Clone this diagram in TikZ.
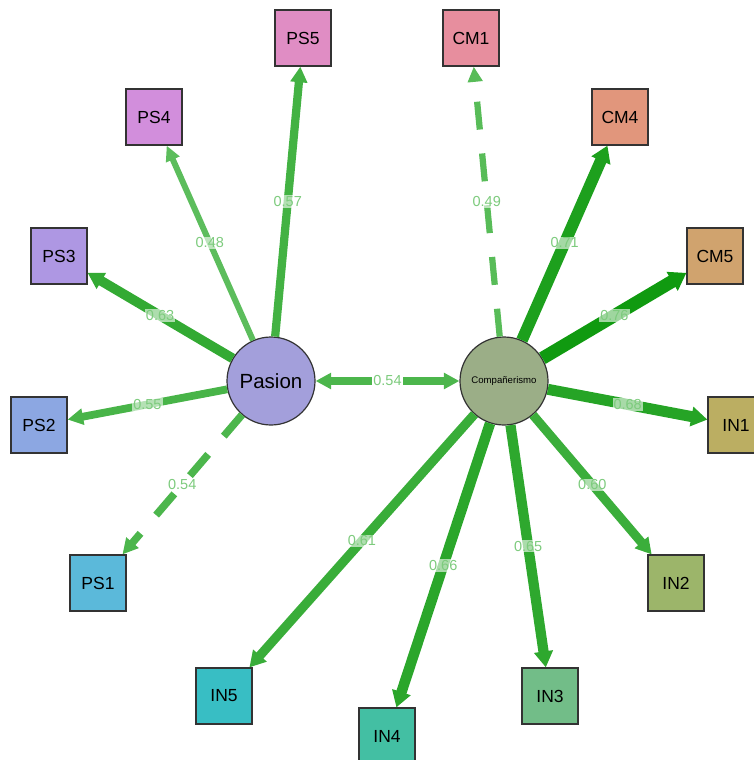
\documentclass[tikz,border=0pt]{standalone}
\usepackage{fontspec}
\setmainfont{Liberation Sans}
\usepackage{xcolor}
\usepackage{tikz}
\usetikzlibrary{arrows.meta}

\definecolor{edgedark}{HTML}{0C980C}
\definecolor{edgelight}{HTML}{66C266}
\definecolor{lblgreen}{HTML}{7DCB7D}
\definecolor{cpasion}{HTML}{A39FDB}
\definecolor{ccomp}{HTML}{9BAE87}
\definecolor{cps1}{HTML}{5BB9DA}
\definecolor{cps2}{HTML}{8CA7E2}
\definecolor{cps3}{HTML}{AE97E3}
\definecolor{cps4}{HTML}{D28EDC}
\definecolor{cps5}{HTML}{E08DC4}
\definecolor{ccm1}{HTML}{E78E9E}
\definecolor{ccm4}{HTML}{E1967C}
\definecolor{ccm5}{HTML}{D0A36E}
\definecolor{cin1}{HTML}{BBAE62}
\definecolor{cin2}{HTML}{9CB56A}
\definecolor{cin3}{HTML}{72BD88}
\definecolor{cin4}{HTML}{43BFA3}
\definecolor{cin5}{HTML}{38BEC4}

\begin{document}
\begin{tikzpicture}[x=1pt,y=-1pt,
        item/.style={draw=black!80,line width=1.2pt,minimum size=56pt,inner sep=0pt,font=\fontsize{17.5}{20}\selectfont},
        latent/.style={circle,draw=black!80,line width=1.2pt,minimum size=88pt,inner sep=0pt},
        load/.code={\pgfmathsetmacro\lw{6+25*(#1-0.48)}\pgfmathtruncatemacro\lp{min(100,max(0,(#1-0.44)*300))}\tikzset{line width=\lw pt,draw=edgedark!\lp!edgelight}},
        arr/.style={-{Triangle[length=14pt 0.2,width=8pt 1]}},
        gap/.style={dash pattern=on 28pt off 24pt},
        lbl/.style={fill=white,fill opacity=0.6,text opacity=1,text=lblgreen,inner sep=1pt,font=\fontsize{14.5}{16}\selectfont}]
        \useasboundingbox (0,0) rectangle (754,760);

        \node[latent,fill=cpasion,font=\fontsize{20.5}{24}\selectfont] (pasion) at (271,381) {Pasion};
        \node[latent,fill=ccomp,font=\fontsize{9.6}{11}\selectfont] (comp) at (504,381) {Compañerismo};

        \node[item,fill=cps5] (ps5) at (303,38) {PS5};
        \node[item,fill=cps4] (ps4) at (154,117) {PS4};
        \node[item,fill=cps3] (ps3) at (59,256) {PS3};
        \node[item,fill=cps2] (ps2) at (39,425) {PS2};
        \node[item,fill=cps1] (ps1) at (98,583) {PS1};

        \node[item,fill=ccm1] (cm1) at (471,38) {CM1};
        \node[item,fill=ccm4] (cm4) at (620,117) {CM4};
        \node[item,fill=ccm5] (cm5) at (715,256) {CM5};
        \node[item,fill=cin1] (in1) at (736,425) {IN1};
        \node[item,fill=cin2] (in2) at (676,583) {IN2};
        \node[item,fill=cin3] (in3) at (550,696) {IN3};
        \node[item,fill=cin4] (in4) at (387,736) {IN4};
        \node[item,fill=cin5] (in5) at (224,696) {IN5};

        \draw[load=0.57,arr] (pasion) -- node[lbl]{0.57} (ps5);
        \draw[load=0.48,arr] (pasion) -- node[lbl]{0.48} (ps4);
        \draw[load=0.63,arr] (pasion) -- node[lbl]{0.63} (ps3);
        \draw[load=0.55,arr] (pasion) -- node[lbl]{0.55} (ps2);
        \draw[load=0.54,arr,gap] (pasion) -- node[lbl]{0.54} (ps1);

        \draw[load=0.49,arr,gap] (comp) -- node[lbl]{0.49} (cm1);
        \draw[load=0.71,arr] (comp) -- node[lbl]{0.71} (cm4);
        \draw[load=0.76,arr] (comp) -- node[lbl]{0.76} (cm5);
        \draw[load=0.68,arr] (comp) -- node[lbl]{0.68} (in1);
        \draw[load=0.60,arr] (comp) -- node[lbl]{0.60} (in2);
        \draw[load=0.65,arr] (comp) -- node[lbl]{0.65} (in3);
        \draw[load=0.66,arr] (comp) -- node[lbl]{0.66} (in4);
        \draw[load=0.61,arr] (comp) -- node[lbl]{0.61} (in5);

        \draw[load=0.54,{Triangle[length=14pt 0.2,width=8pt 1]}-{Triangle[length=14pt 0.2,width=8pt 1]}] (pasion) -- node[lbl,fill opacity=1]{0.54} (comp);
\end{tikzpicture}
\end{document}
